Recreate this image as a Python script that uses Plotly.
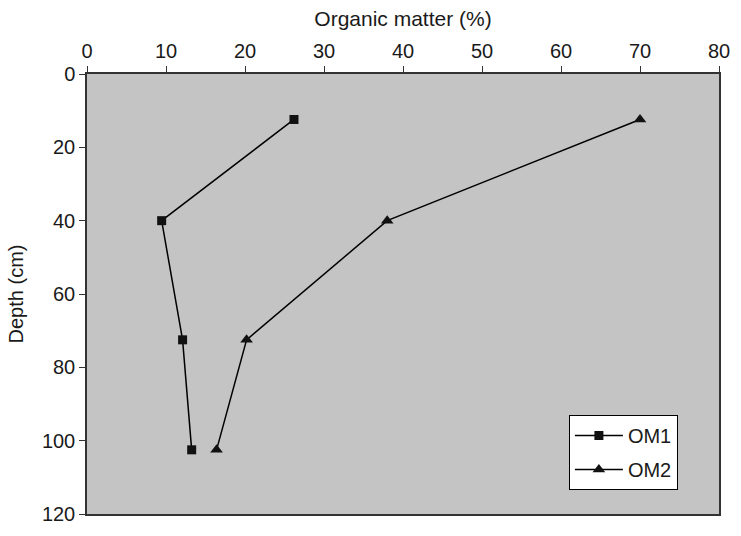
import plotly.graph_objects as go

depth = [12.4, 40, 72.5, 102.5]
om1 = [26.2, 9.45, 12.1, 13.25]
om2 = [70.0, 38.0, 20.2, 16.4]
series_names = ["OM1", "OM2"]

FONT = "Liberation Sans, Arial, sans-serif"

fig = go.Figure()
fig.add_trace(go.Scatter(x=om1, y=depth, mode="lines+markers", name=series_names[0],
                         legendgroup="g1",
                         line=dict(color="black", width=1.5),
                         marker=dict(symbol="square", size=9, color="#111111")))
fig.add_trace(go.Scatter(x=om2, y=depth, mode="lines+markers", name=series_names[1],
                         legendgroup="g2",
                         line=dict(color="black", width=1.5),
                         marker=dict(symbol="triangle-up", size=11, color="#111111")))

fig.update_layout(
    width=741, height=536,
    margin=dict(l=87, r=14, t=74, b=11),
    paper_bgcolor="white",
    plot_bgcolor="#c3c4c3",
    font=dict(family=FONT, size=20, color="#1a1a1a"),
    showlegend=True,
    legend=dict(x=0.7625, y=0.225, xanchor="left", yanchor="top",
                bgcolor="white", bordercolor="black", borderwidth=1,
                tracegroupgap=5, itemwidth=48, entrywidth=111,
                font=dict(size=20)),
    xaxis=dict(side="top", range=[0, 80], dtick=10, showgrid=False, zeroline=False,
               showline=True, linecolor="#333", linewidth=1.5, mirror=True,
               ticks="outside", ticklen=6, tickcolor="#333",
               title=dict(text="Organic matter (%)", standoff=8, font=dict(size=21))),
    yaxis=dict(range=[120, 0], dtick=20, showgrid=False, zeroline=False,
               showline=True, linecolor="#333", linewidth=1.5, mirror=True,
               ticks="outside", ticklen=6, tickcolor="#333",
               title=dict(text="Depth (cm)", standoff=13, font=dict(size=20))),
)

fig.write_html("out.html")
